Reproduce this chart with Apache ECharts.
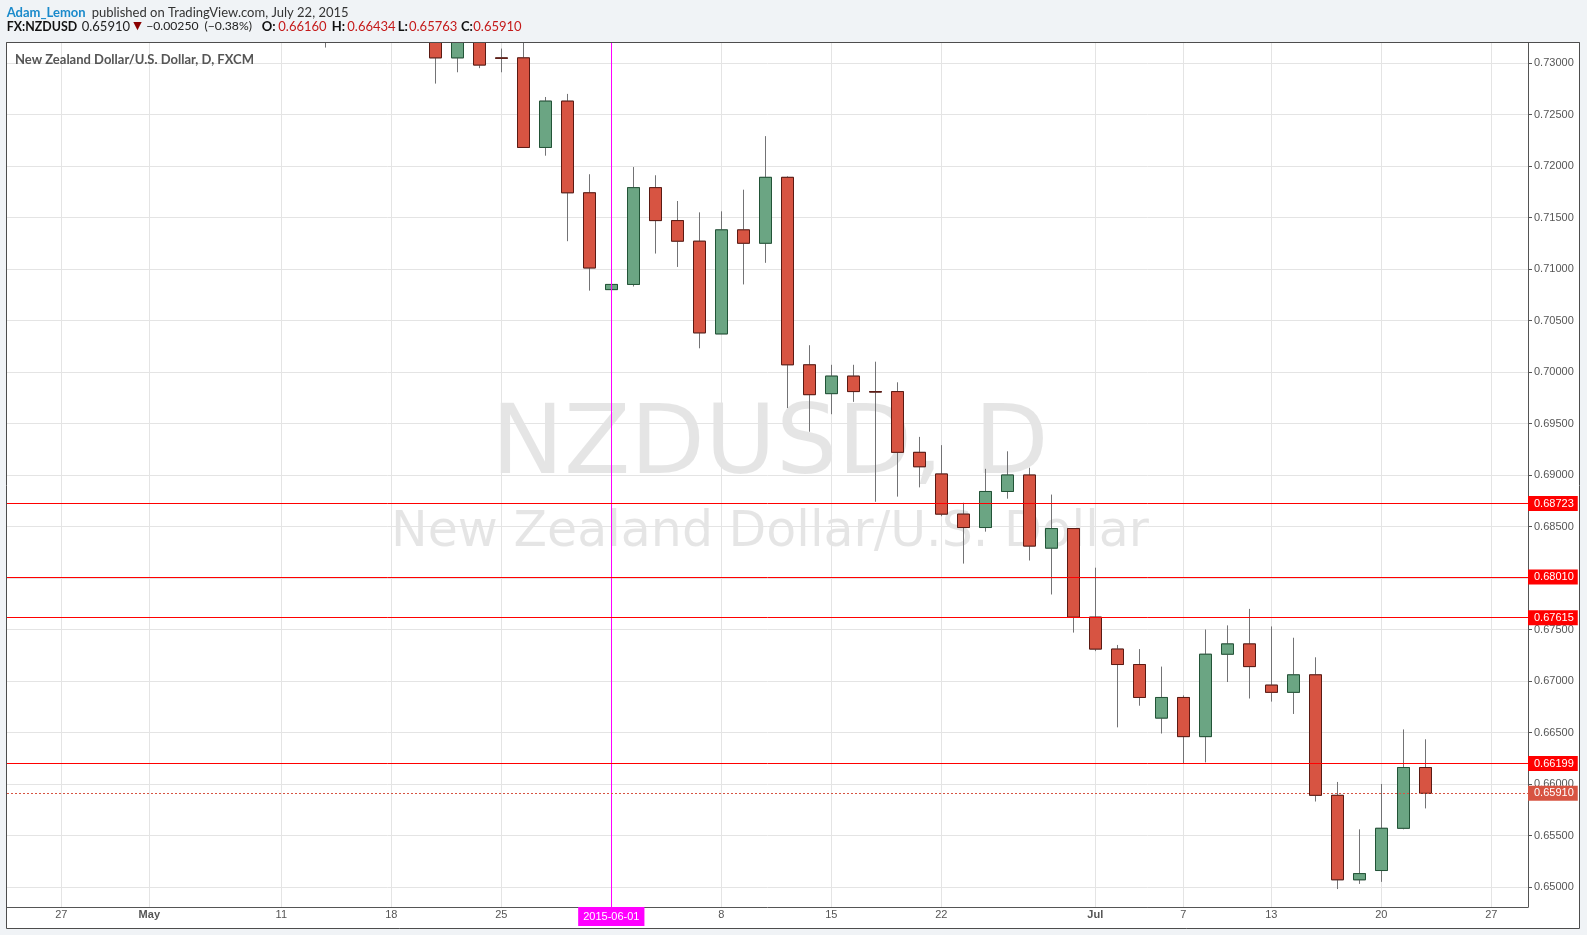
<!DOCTYPE html>
<html><head><meta charset="utf-8">
<script src="https://cdn.jsdelivr.net/npm/echarts@6/dist/echarts.min.js"></script>
<style>html,body{margin:0;padding:0;background:#f0f3f6;}#chart{width:1587px;height:935px;}</style>
</head><body><div id="chart"></div>
<script>
// ---- data ----
const dates = ['2015-05-13','2015-05-20','2015-05-21','2015-05-22','2015-05-25','2015-05-26','2015-05-27','2015-05-28','2015-05-29',
  '2015-06-01','2015-06-02','2015-06-03','2015-06-04','2015-06-05','2015-06-08','2015-06-09','2015-06-10','2015-06-11','2015-06-12',
  '2015-06-15','2015-06-16','2015-06-17','2015-06-18','2015-06-19','2015-06-22','2015-06-23','2015-06-24','2015-06-25','2015-06-26',
  '2015-06-29','2015-06-30','2015-07-01','2015-07-02','2015-07-03','2015-07-06','2015-07-07','2015-07-08','2015-07-09','2015-07-10',
  '2015-07-13','2015-07-14','2015-07-15','2015-07-16','2015-07-17','2015-07-20','2015-07-21','2015-07-22'];
const opens  = [0.7380,0.7340,0.7305,0.7334,0.73050,0.7305,0.7218,0.7263,0.7174,
  0.7080,0.7085,0.7179,0.7147,0.7127,0.7037,0.7138,0.7125,0.7189,0.7007,
  0.6979,0.6996,0.69810,0.6981,0.6922,0.6901,0.6862,0.6849,0.6884,0.6900,
  0.6829,0.6848,0.6762,0.6731,0.6716,0.6664,0.6684,0.6646,0.6726,0.6736,
  0.6696,0.6689,0.6706,0.6589,0.6507,0.6516,0.6557,0.66160];
const highs  = [0.7435,0.7352,0.7345,0.7345,0.7314,0.7325,0.7267,0.7270,0.7192,
  0.7100,0.7199,0.7191,0.7166,0.7155,0.7156,0.7177,0.7229,0.7190,0.7026,
  0.7007,0.7007,0.7010,0.6990,0.6937,0.6929,0.6873,0.6906,0.6923,0.6907,
  0.6881,0.6848,0.6810,0.6735,0.6731,0.6714,0.6686,0.6750,0.6754,0.6770,
  0.6753,0.6742,0.6723,0.6602,0.6556,0.6600,0.6653,0.66434];
const lows   = [0.7315,0.7280,0.7291,0.7295,0.7291,0.7218,0.7210,0.7127,0.7079,
  0.7070,0.7083,0.7115,0.7102,0.7023,0.7037,0.7085,0.7106,0.6965,0.6942,
  0.6959,0.6971,0.6874,0.6879,0.6888,0.6860,0.6814,0.6845,0.6877,0.6817,
  0.6784,0.6747,0.6729,0.6655,0.6676,0.6649,0.6620,0.6621,0.6699,0.6683,
  0.6680,0.6668,0.6583,0.6498,0.6503,0.6505,0.6556,0.65763];
const closes = [0.7420,0.7305,0.7334,0.7298,0.73045,0.7218,0.7263,0.7174,0.7101,
  0.7085,0.7179,0.7147,0.7127,0.7038,0.7138,0.7125,0.7189,0.7007,0.6978,
  0.6996,0.6981,0.69805,0.6922,0.6908,0.6862,0.6849,0.6884,0.6900,0.6831,
  0.6848,0.6762,0.6731,0.6716,0.6684,0.6684,0.6646,0.6726,0.6736,0.6714,
  0.6689,0.6706,0.6589,0.6507,0.6513,0.6557,0.6616,0.65910];
const tickDates  = ['2015-04-27','2015-05-01','2015-05-11','2015-05-18','2015-05-25','2015-06-01','2015-06-08',
  '2015-06-15','2015-06-22','2015-07-01','2015-07-07','2015-07-13','2015-07-20','2015-07-27'];
const tickLabels = ['27','May','11','18','25','2015-06-01','8','15','22','Jul','7','13','20','27'];
const monthLabels = ['May','Jul'];
const priceTicks = [0.650,0.655,0.660,0.665,0.670,0.675,0.680,0.685,0.690,0.695,0.700,0.705,0.710,0.715,0.720,0.725,0.730];
const levelLines = [0.68723, 0.68010, 0.67615, 0.66199];
const lastPrice = 0.65910;
const markerDate = '2015-06-01';
const xRange = [2.532, 71.668];   // trading-day index range of the view
const yRange = [0.648058, 0.731942];

// ---- helpers ----
const base = Date.UTC(2015, 3, 20); // Monday 2015-04-20 = index 0
function tradingIndex(s) {
  const p = s.split('-').map(Number);
  const days = Math.round((Date.UTC(p[0], p[1] - 1, p[2]) - base) / 86400000);
  return Math.floor(days / 7) * 5 + Math.min(days % 7, 5);
}
const tickIdx = tickDates.map(tradingIndex);
const full = dates.map((d, i) => [tradingIndex(d), opens[i], closes[i], lows[i], highs[i]]);
const bodies = dates.map((d, i) => [tradingIndex(d), opens[i], closes[i], Math.min(opens[i], closes[i]), Math.max(opens[i], closes[i])]);
const dims = ['x', 'open', 'close', 'lowest', 'highest'];
const enc = { x: 'x', y: ['open', 'close', 'lowest', 'highest'] };

// header segments: [text, x, y, weight, color, size, family]
const headerParts = [
  ['Adam_Lemon', 6.7, 12.5, 'bold', '#1a8acb', 13, 'Lato'],
  ['published on TradingView.com, July 22, 2015', 91.7, 12.5, 'normal', '#333', 13, 'Lato'],
  ['FX:NZDUSD', 6.7, 26.5, 'bold', '#111', 12.4, 'Lato'],
  ['0.65910', 81.7, 26.5, 'normal', '#222', 13, 'Lato'],
  ['\u25BC', 133.3, 26.5, 'normal', '#8b0000', 11, 'DejaVu Sans'],
  ['\u22120.00250', 146.2, 26.5, 'normal', '#222', 12.2, 'Lato'],
  ['(\u22120.38%)', 204.5, 26.5, 'normal', '#222', 12.2, 'Lato'],
  ['O:', 261.7, 26.5, 'bold', '#111', 13, 'Lato'],
  ['0.66160', 278.3, 26.5, 'normal', '#c41a1a', 13, 'Lato'],
  ['H:', 331.7, 26.5, 'bold', '#111', 13, 'Lato'],
  ['0.66434', 347.3, 26.5, 'normal', '#c41a1a', 13, 'Lato'],
  ['L:', 397.7, 26.5, 'bold', '#111', 13, 'Lato'],
  ['0.65763', 409, 26.5, 'normal', '#c41a1a', 13, 'Lato'],
  ['C:', 461, 26.5, 'bold', '#111', 13, 'Lato'],
  ['0.65910', 473.3, 26.5, 'normal', '#c41a1a', 13, 'Lato']
];

const chart = echarts.init(document.getElementById('chart'), null, { renderer: 'canvas' });
const axisFont = 'Liberation Sans, Arial, sans-serif';
const graphics = [
  { type: 'rect', z: -10, shape: { x: 6.5, y: 42.5, width: 1573, height: 886 },
    style: { fill: '#ffffff', stroke: '#4d4d4d', lineWidth: 1 } },
  { type: 'text', z: -5, x: 770, y: 448, style: { text: 'NZDUSD, D', font: '97px "DejaVu Sans"',
    fill: 'rgba(0,0,0,0.1)', align: 'center', verticalAlign: 'middle' } },
  { type: 'text', z: -5, x: 770, y: 533, style: { text: 'New Zealand Dollar/U.S. Dollar', font: '49px "DejaVu Sans"',
    fill: 'rgba(0,0,0,0.1)', align: 'center', verticalAlign: 'middle' } },
  { type: 'text', z: 10, x: 15, y: 60, style: { text: 'New Zealand Dollar/U.S. Dollar, D, FXCM',
    font: 'bold 13px Lato', fill: '#555', verticalAlign: 'middle' } },
  // header band above the plot (hides the part of candles above the price range)
  { type: 'rect', z: 50, shape: { x: 0, y: 0, width: 1587, height: 42 }, style: { fill: '#f0f3f6' } },
  { type: 'line', z: 51, shape: { x1: 6.5, y1: 42.5, x2: 1579.5, y2: 42.5 }, style: { stroke: '#4d4d4d', lineWidth: 1 } }
].concat(headerParts.map(p => ({ type: 'text', z: 60, x: p[1], y: p[2],
  style: { text: p[0], font: p[3] + ' ' + p[5] + 'px "' + p[6] + '"', fill: p[4], verticalAlign: 'middle' } })));

const option = {
  animation: false,
  backgroundColor: '#f0f3f6',
  grid: { left: 7, right: 59, top: 43, bottom: 28, containLabel: false, outerBoundsMode: 'none' },
  xAxis: {
    type: 'value', min: xRange[0], max: xRange[1],
    axisLine: { show: true, onZero: false, lineStyle: { color: '#555', width: 1 } },
    axisTick: { show: false, customValues: tickIdx },
    axisLabel: {
      customValues: tickIdx, margin: 0, color: '#555', fontSize: 11, fontFamily: axisFont,
      formatter: function (v) {
        const k = tickIdx.indexOf(Math.round(v));
        if (k < 0) return '';
        const t = tickLabels[k];
        if (tickDates[k] === markerDate) return '{hl|' + t + '}';
        if (monthLabels.indexOf(t) >= 0) return '{b|' + t + '}';
        return '{n|' + t + '}';
      },
      rich: {
        n: { color: '#555', fontSize: 11, fontFamily: axisFont, padding: [2, 0, 0, 0] },
        b: { color: '#555', fontSize: 11, fontFamily: axisFont, fontWeight: 'bold', padding: [2, 0, 0, 0] },
        hl: { color: '#fff', fontSize: 11, fontFamily: axisFont, backgroundColor: '#ff00ff', padding: [4, 5, 4, 5] }
      }
    },
    splitLine: { show: true, lineStyle: { color: '#e4e4e4', width: 1 } }
  },
  yAxis: {
    type: 'value', position: 'right', min: yRange[0], max: yRange[1], scale: true,
    axisLine: { show: true, lineStyle: { color: '#555', width: 1 } },
    axisTick: { show: true, length: 4, customValues: priceTicks, lineStyle: { color: '#555' } },
    axisLabel: { customValues: priceTicks, margin: 6, color: '#555', fontSize: 11, fontFamily: axisFont,
      formatter: v => v.toFixed(5) },
    splitLine: { show: true, lineStyle: { color: '#e4e4e4', width: 1 } }
  },
  series: [
    { type: 'line', data: [], z: 1, silent: true, clip: false,
      markLine: { silent: true, symbol: 'none', animation: false, precision: 5,
        lineStyle: { color: '#ff00ff', width: 1, type: 'solid' }, label: { show: false },
        data: [{ xAxis: tradingIndex(markerDate) }] } },
    { type: 'candlestick', name: 'wicks', dimensions: dims, encode: enc, data: full, z: 2, silent: true,
      barWidth: 13, clip: true,
      itemStyle: { color: 'rgba(0,0,0,0)', color0: 'rgba(0,0,0,0)', borderColor: '#737375', borderColor0: '#737375', borderWidth: 1 } },
    { type: 'candlestick', name: 'NZDUSD', dimensions: dims, encode: enc, data: bodies, z: 3, silent: true,
      barWidth: 13, clip: true,
      itemStyle: { color: '#6ba583', color0: '#d75442', borderColor: '#225437', borderColor0: '#5b1a13', borderWidth: 1 } },
    { type: 'line', data: [], z: 5, silent: true, clip: false,
      markLine: { silent: true, symbol: 'none', animation: false, precision: 5,
        label: { show: true, position: 'end', distance: 0, color: '#fff', fontSize: 11, fontFamily: axisFont,
          padding: [2, 4, 1, 6], lineHeight: 12, formatter: p => Number(p.value).toFixed(5) },
        data: levelLines.map(v => ({ yAxis: v, lineStyle: { color: '#ff0000', width: 1, type: 'solid' },
            label: { backgroundColor: '#ff0000' } }))
          .concat([{ yAxis: lastPrice, lineStyle: { color: '#d75442', width: 1, type: [2, 2] },
            label: { backgroundColor: '#d75442' } }]) } }
  ],
  graphic: graphics
};
chart.setOption(option);
</script></body></html>
